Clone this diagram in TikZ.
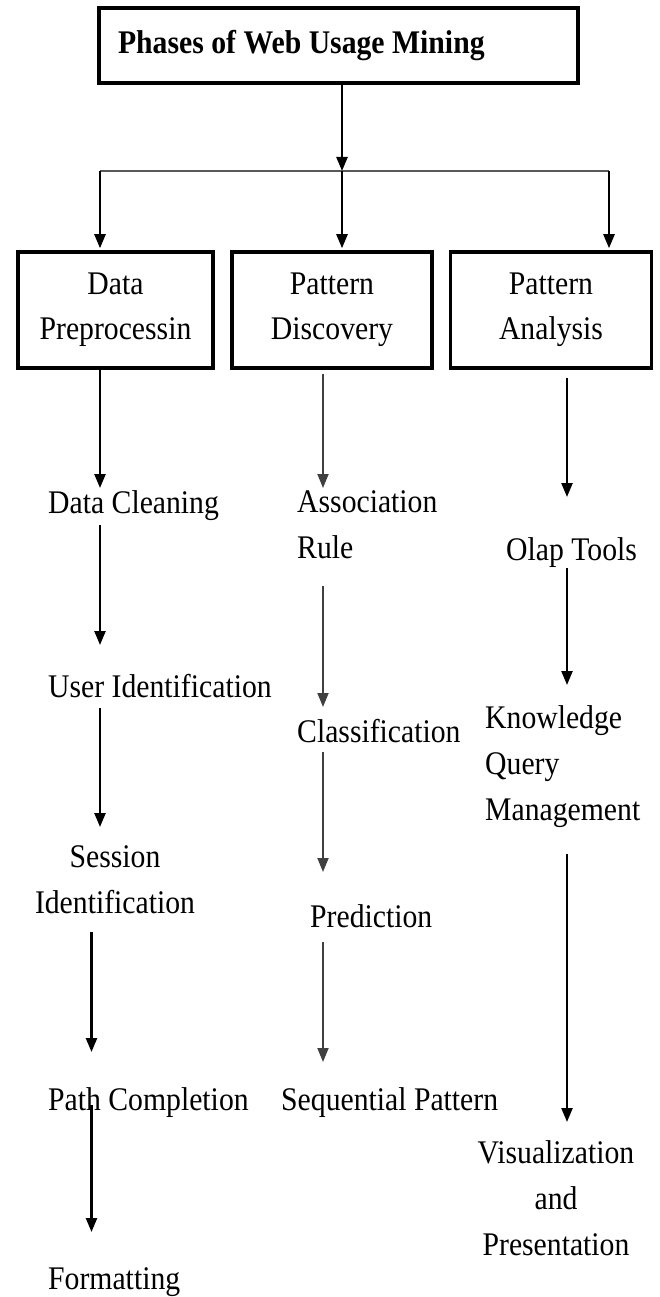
\documentclass[tikz,border=0pt]{standalone}
\usepackage{fontspec}
\setmainfont{Liberation Serif}[FakeStretch=0.9]
\usetikzlibrary{arrows.meta,calc}
\begin{document}
\begin{tikzpicture}[x=1pt,y=-1pt,
  every node/.style={inner sep=0pt, font=\fontsize{33}{46}\selectfont},
  lbl/.style={anchor=base west},
  phase/.style={draw, line width=3.5pt, minimum height=116pt, align=center, font=\fontsize{33}{45}\selectfont},
  titlebox/.style={draw, line width=3.5pt, minimum height=75pt, text width=441pt, inner xsep=19pt, align=left, font=\bfseries\fontsize{33}{38}\selectfont, execute at begin node={\spaceskip=7.5pt plus 1pt\relax}},
  arr/.style={line width=2.4pt, -{Triangle[length=14pt,width=11pt]}},
  arrg/.style={line width=1.8pt, draw=black!75, -{Triangle[length=14pt,width=11pt]}},
  hline/.style={line width=2pt, draw=black!65}
]
\useasboundingbox (0,0) rectangle (659,1297);

% nodes
\node[titlebox] (top) at (338.5,45.5) {Phases of Web Usage Mining};
\node[phase, minimum width=195pt] (dp) at (115.5,310) {Data\\Preprocessin};
\node[phase, minimum width=200pt] (pd) at (332,310) {Pattern\\Discovery};
\node[phase, minimum width=201pt] (pa) at (551,310) {Pattern\\Analysis};

\node[lbl] (dc) at (48,513) {Data Cleaning};
\node[lbl] (ui) at (48,697) {User Identification};
\node[align=center, anchor=north] (si) at (115,845.5) {Session\\Identification};
\node[lbl] (pc) at (48,1110) {Path Completion};
\node[lbl] (fm) at (48,1289) {Formatting};

\node[align=left, anchor=north west] (as) at (297,490.5) {Association\\Rule};
\node[lbl] (cl) at (297,742) {Classification};
\node[lbl] (pr) at (310,927) {Prediction};
\node[lbl] (sp) at (281,1110) {Sequential Pattern};

\node[lbl] (ol) at (506,560) {Olap Tools};
\node[align=left, anchor=north west] (km) at (485,705.5) {Knowledge\\Query\\Management};
\node[align=center, anchor=north] (vp) at (556,1140.5) {Visualization\\and\\Presentation};

% helper coordinates
\coordinate (hl) at (342,171);
\coordinate (hlL) at (100,171);
\coordinate (hlR) at (609,171);
\coordinate (c1) at (100,0);
\coordinate (c1b) at (91.5,0);
\coordinate (c2) at (323,0);
\coordinate (c3) at (567,0);

% top connectors
\draw[arr] (top.south -| hl) -- (hl);
\draw[hline] (hlL) -- (hlR);
\draw[arr, shorten >=2pt] (hlL) -- (dp.north -| hlL);
\draw[arr, shorten >=2pt] (hl) -- (pd.north -| hl);
\draw[arr, shorten >=2pt] (hlR) -- (pa.north -| hlR);

% column 1
\draw[arr] (dp.south -| c1) -- ($(dc.base -| c1)+(0,-25)$);
\draw[arr] ($(dc.base -| c1)+(0,12)$) -- ($(ui.base -| c1)+(0,-52)$);
\draw[arr] ($(ui.base -| c1)+(0,11)$) -- ($(si.north -| c1)+(0,-18.5)$);
\draw[arr] ($(si.south -| c1b)+(0,18)$) -- ($(pc.base -| c1b)+(0,-58)$);
\draw[arr] ($(pc.base -| c1b)+(0,-5)$) -- ($(fm.base -| c1b)+(0,-57)$);

% column 2
\draw[arrg] ($(pd.south -| c2)+(0,4)$) -- ($(as.north -| c2)+(0,-2.5)$);
\draw[arrg] ($(as.south -| c2)+(0,27)$) -- ($(cl.base -| c2)+(0,-35)$);
\draw[arrg] ($(cl.base -| c2)+(0,10)$) -- ($(pr.base -| c2)+(0,-55)$);
\draw[arrg] ($(pr.base -| c2)+(0,15)$) -- ($(sp.base -| c2)+(0,-48)$);

% column 3
\draw[arr] ($(pa.south -| c3)+(0,8)$) -- ($(ol.base -| c3)+(0,-63)$);
\draw[arr] ($(ol.base -| c3)+(0,8)$) -- ($(km.north -| c3)+(0,-20.5)$);
\draw[arr] ($(km.south -| c3)+(0,25.8)$) -- ($(vp.north -| c3)+(0,-18.5)$);
\end{tikzpicture}
\end{document}
